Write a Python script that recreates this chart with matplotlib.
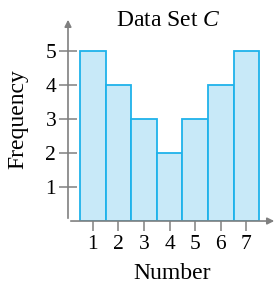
import numpy as np
import matplotlib
matplotlib.use("Agg")
import matplotlib.pyplot as plt

# Данные
numbers = [1, 2, 3, 4, 5, 6, 7]
frequency = [5, 4, 3, 2, 3, 4, 5]
y_ticks = [1, 2, 3, 4, 5]

plt.rcParams['font.family'] = 'Liberation Serif'
plt.rcParams['mathtext.fontset'] = 'custom'
plt.rcParams['mathtext.it'] = 'Liberation Serif:italic'
plt.rcParams['mathtext.rm'] = 'Liberation Serif'

axis_col = '#808080'

fig = plt.figure(figsize=(2.78, 2.83), dpi=100)
ax = fig.add_axes([0.2446, 0.219, 0.7518, 0.721])

ax.bar(numbers, frequency, width=1.0, color='#c8e9f8', edgecolor='#1fb2ea', linewidth=1.3, zorder=2)

ax.set_xlim(0.03, 8.2)
ax.set_ylim(0, 6.0)

for s in ax.spines.values():
    s.set_visible(False)

# оси со стрелками
ax.annotate('', xy=(1, 0), xytext=(0, 0), xycoords='axes fraction',
            arrowprops=dict(arrowstyle='-|>', color=axis_col, lw=1.2, mutation_scale=10), zorder=3)
ax.annotate('', xy=(0, 1), xytext=(0, 0), xycoords='axes fraction',
            arrowprops=dict(arrowstyle='-|>', color=axis_col, lw=1.2, mutation_scale=10), zorder=3)

ax.set_xticks(numbers)
ax.set_yticks(y_ticks)
ax.tick_params(axis='x', direction='out', length=7, width=1.1, color=axis_col, labelsize=15.5, pad=3)
ax.tick_params(axis='y', direction='inout', length=13, width=1.1, color=axis_col, labelsize=15.5, pad=2)

ax.set_xlabel('Number', fontsize=17, labelpad=6.5)
ax.set_ylabel('Frequency', fontsize=17, labelpad=12)
fig.text(168 / 278, 1 - 20 / 283, 'Data Set $C$', fontsize=17, ha='center', va='center')

fig.savefig('out.png', dpi=100)
